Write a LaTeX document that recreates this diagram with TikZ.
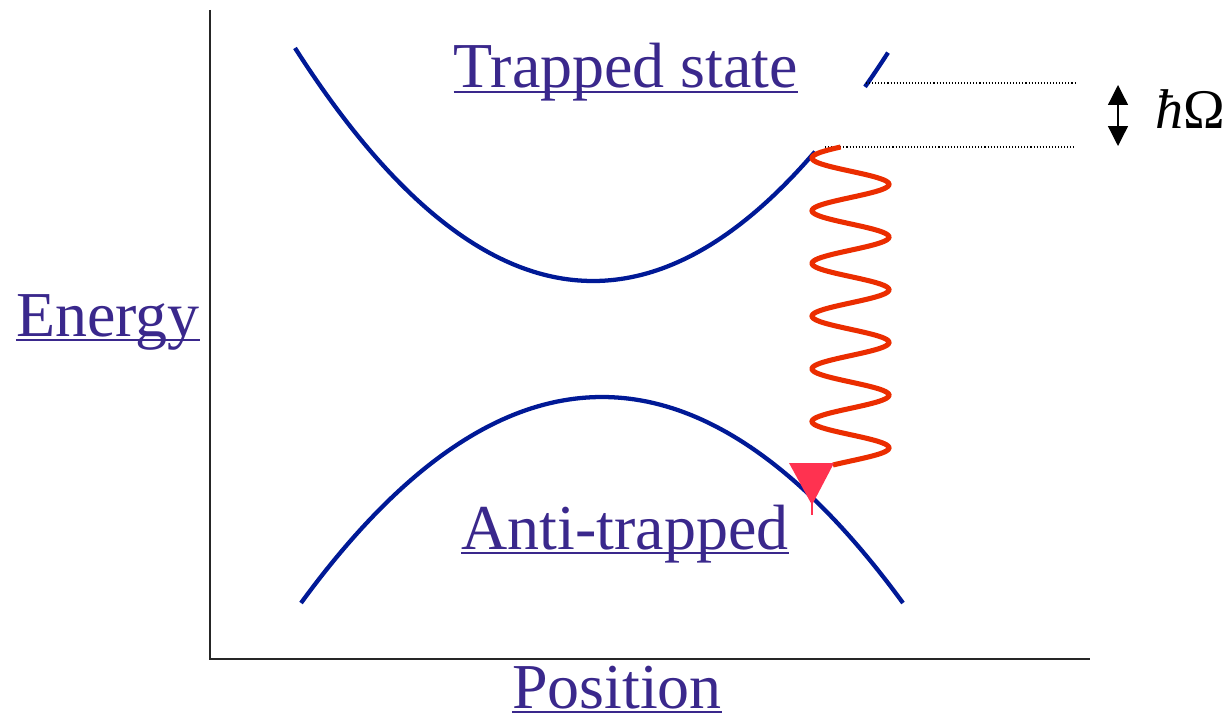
\documentclass[tikz,border=0pt]{standalone}
\usepackage{fontspec}
\setmainfont{Liberation Serif}
\usetikzlibrary{arrows.meta}
\definecolor{txtpurple}{RGB}{58,40,140}
\definecolor{curveblue}{RGB}{0,25,150}
\definecolor{wavered}{RGB}{235,45,0}
\definecolor{tripink}{RGB}{255,50,80}
\tikzset{
  axis/.style={line width=1.5pt, draw=black!85},
  band/.style={line width=3.2pt, draw=curveblue},
  wave/.style={line width=3.8pt, draw=wavered},
  label/.style={inner sep=0pt, anchor=base, text=txtpurple, font=\fontsize{48}{56}\selectfont},
  uline/.style={line width=2.2pt, draw=txtpurple},
  level/.style={line width=0.8pt, dash pattern=on 0.8pt off 1.5pt},
  dblarrow/.style={line width=1pt, {Triangle[length=15pt,width=15pt]}-{Triangle[length=15pt,width=15pt]}}
}
\begin{document}
\begin{tikzpicture}[x=0.75pt, y=-0.75pt]
\useasboundingbox (0,0) rectangle (1232,717);
% axes
\coordinate (top) at (210,10);
\coordinate (origin) at (210,659);
\coordinate (right) at (1090,659);
\draw[axis] (top) -- (origin) -- (right);
% trapped band
\draw[band] plot[domain=295:815, samples=100] (\x, {281-(0.05122*(\x-593))^2});
\draw[band] plot[domain=865:888, samples=10] (\x, {281-(0.05122*(\x-593))^2});
% anti-trapped band
\draw[band] plot[domain=301:903, samples=100] (\x, {397+(0.04769*(\x-602))^2});
% energy levels
\coordinate (l1a) at (866,83);
\coordinate (l1b) at (1075,83);
\coordinate (l2a) at (825,147);
\coordinate (l2b) at (1075,147);
\draw[level] (l1a) -- (l1b);
\draw[level] (l2a) -- (l2b);
% photon
\draw[wave] plot[domain=147:465, samples=300] ({850.5-38.5*cos(6.831*(\x-158))}, \x);
% triangle
\fill[tripink] (789,463) -- (834,463) -- (812,505) -- cycle;
\draw[tripink, line width=0.8pt] (812,503) -- (812,515);
% hbar Omega
\coordinate (a1) at (1118,85);
\coordinate (a2) at (1118,146);
\draw[dblarrow] (a1) -- (a2);
\node[inner sep=0pt, anchor=base west, font=\fontsize{42}{48}\selectfont] (hw) at (1155,128) {\textit{ħ}Ω};
% labels
\node[label] (ts) at (626,88) {Trapped state};
\draw[uline] ([yshift=-3pt]ts.base west) -- ([yshift=-3pt]ts.base east);
\node[label] (at) at (625,549) {Anti-trapped};
\draw[uline] ([yshift=-3pt]at.base west) -- ([yshift=-3pt]at.base east);
\node[label] (en) at (108,336) {Energy};
\draw[uline] ([yshift=-3pt]en.base west) -- ([yshift=-3pt]en.base east);
\node[label] (po) at (617,708) {Position};
\draw[uline] ([yshift=-3pt]po.base west) -- ([yshift=-3pt]po.base east);
\end{tikzpicture}
\end{document}
